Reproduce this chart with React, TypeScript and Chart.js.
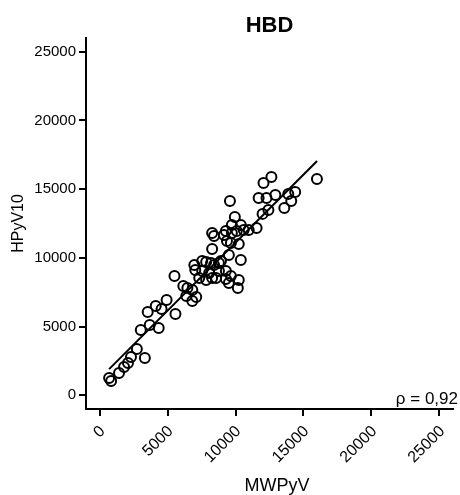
import React, { useEffect, useRef } from "react";
import { Chart, registerables } from "chart.js";

Chart.register(...registerables);

const chartTitle = "HBD";
const xAxisTitle = "MWPyV";
const yAxisTitle = "HPyV10";
const rhoLabel = "ρ = 0,92";
const tickValues = [0, 5000, 10000, 15000, 20000, 25000];

const xValues = [
  700, 850, 1430, 1800, 2090, 2310, 2740, 3330, 3030, 3690, 4350, 3540, 4130, 4560, 4930, 5580,
  5510, 6160, 6460, 6380, 6820, 7110, 6820, 7040, 6970, 7550, 7840, 8200, 8420, 8780, 7550, 8060,
  8780, 9290, 7330, 7840, 8280, 9660, 10240, 10170, 8930, 8280, 9510, 10390, 8570, 9290, 9510,
  8280, 8420, 9150, 9730, 10390, 10970, 11550, 9730, 10090, 10600, 9660, 10240, 9950, 9590,
  12060, 12640, 11700, 12280, 12930, 13880, 14390, 14100, 13590, 12420, 11990, 15990, 9290, 9370,
];
const yValues = [
  1260, 1040, 1620, 2060, 2350, 2790, 3370, 2710, 4750, 5120, 4900, 6060, 6500, 6280, 6940, 5920,
  8680, 7950, 7810, 7230, 6860, 7150, 7660, 9120, 9480, 9770, 9700, 9630, 9480, 9630, 9050, 8900,
  9050, 9050, 8540, 8390, 8540, 8680, 8390, 7810, 9770, 10650, 10210, 9850, 8540, 8460, 8170,
  11810, 11590, 11670, 12390, 12390, 12030, 12180, 11810, 11960, 12030, 11080, 11010, 12980, 14140,
  15450, 15890, 14360, 14360, 14580, 14650, 14800, 14140, 13630, 13490, 13200, 15740, 11960, 11230,
];

const fitX = [700, 16000];
const fitY = [1900, 17050];

const FONT = "'Liberation Sans', Arial, Helvetica, sans-serif";

export default function App() {
  const canvasRef = useRef<HTMLCanvasElement | null>(null);

  useEffect(() => {
    const canvas = canvasRef.current;
    if (!canvas) return;

    const textPlugin = {
      id: "extraText",
      afterDraw(chart: any) {
        const { ctx, chartArea } = chart;
        ctx.save();
        ctx.fillStyle = "#000";
        ctx.font = `bold 22px ${FONT}`;
        ctx.textAlign = "center";
        ctx.textBaseline = "alphabetic";
        ctx.fillText(chartTitle, (chartArea.left + chartArea.right) / 2, 31.5);
        ctx.font = `18px ${FONT}`;
        ctx.fillText(xAxisTitle, 277, 491);
        ctx.font = `17px ${FONT}`;
        ctx.textAlign = "right";
        ctx.fillText(rhoLabel, 458, 404);
        ctx.restore();
      },
    };

    const scatterData = xValues.map((x, i) => ({ x, y: yValues[i] }));
    const fitData = fitX.map((x, i) => ({ x, y: fitY[i] }));

    const chart = new Chart(canvas, {
      type: "scatter",
      data: {
        datasets: [
          {
            type: "line",
            data: fitData,
            borderColor: "#000",
            borderWidth: 2,
            pointRadius: 0,
            fill: false,
          } as any,
          {
            data: scatterData,
            pointStyle: "circle",
            pointRadius: 5,
            pointBorderWidth: 2,
            borderColor: "#000",
            backgroundColor: "rgba(0,0,0,0)",
          },
        ],
      },
      options: {
        animation: false,
        responsive: false,
        maintainAspectRatio: false,
        layout: { padding: { top: 38, right: 3, left: 0, bottom: 0 } },
        plugins: {
          legend: { display: false },
          tooltip: { enabled: false },
          title: { display: false },
        },
        scales: {
          x: {
            type: "linear",
            position: "bottom",
            min: -1000,
            max: 26000,
            afterBuildTicks: (scale: any) => {
              scale.ticks = tickValues.map((v) => ({ value: v }));
            },
            afterFit: (scale: any) => {
              scale.height = 86;
              scale.paddingLeft = 0;
              scale.paddingRight = 0;
              scale.paddingTop = 0;
              scale.paddingBottom = 0;
            },
            grid: {
              drawOnChartArea: false,
              drawTicks: true,
              tickLength: 7,
              color: "#000",
              lineWidth: 2,
            },
            border: { display: true, color: "#000", width: 2 },
            ticks: {
              color: "#000",
              font: { family: FONT, size: 16 },
              minRotation: 45,
              maxRotation: 45,
              padding: 6,
              labelOffset: 3,
              callback: (v: any) => String(v),
            },
            title: { display: false },
          },
          y: {
            type: "linear",
            min: -1000,
            max: 26000,
            afterBuildTicks: (scale: any) => {
              scale.ticks = tickValues.map((v) => ({ value: v }));
            },
            afterFit: (scale: any) => {
              scale.width = 86;
              scale.paddingLeft = 0;
              scale.paddingRight = 0;
              scale.paddingTop = 0;
              scale.paddingBottom = 0;
            },
            grid: {
              drawOnChartArea: false,
              drawTicks: true,
              tickLength: 7,
              color: "#000",
              lineWidth: 2,
            },
            border: { display: true, color: "#000", width: 2 },
            ticks: {
              color: "#000",
              font: { family: FONT, size: 15 },
              padding: 3,
              callback: (v: any) => String(v),
            },
            title: {
              display: true,
              text: yAxisTitle,
              color: "#000",
              font: { family: FONT, size: 16 },
              padding: { top: 9, bottom: 0 },
            },
          },
        },
      },
      plugins: [textPlugin],
    });

    return () => chart.destroy();
  }, []);

  return (
    <div style={{ position: "fixed", left: 0, top: 0, width: 460, height: 495, background: "#fff" }}>
      <canvas ref={canvasRef} width={460} height={495} style={{ width: 460, height: 495 }} />
    </div>
  );
}
